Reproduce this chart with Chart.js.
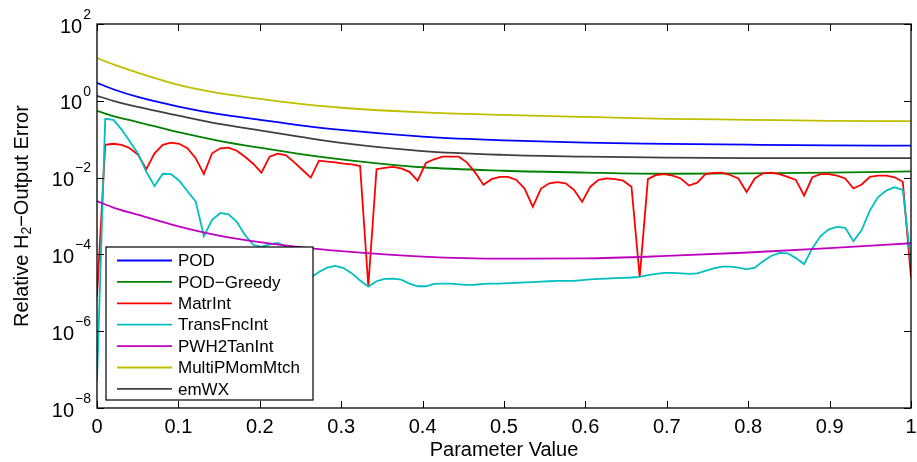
<!DOCTYPE html>
<html>
<head>
<meta charset="utf-8">
<script src="https://cdn.jsdelivr.net/npm/chart.js@4.4.0/dist/chart.umd.min.js"></script>
<style>
  html, body { margin: 0; padding: 0; background: #fff; }
</style>
</head>
<body>
<canvas id="mycanvas" width="917" height="462"></canvas>
<script>
// parameter samples (100 points on [0,1])
var paramGrid = [0, 0.0101, 0.0202, 0.0303, 0.0404, 0.0505, 0.0606, 0.0707, 0.0808, 0.0909,
  0.1010, 0.1111, 0.1212, 0.1313, 0.1414, 0.1515, 0.1616, 0.1717, 0.1818, 0.1919,
  0.2020, 0.2121, 0.2222, 0.2323, 0.2424, 0.2525, 0.2626, 0.2727, 0.2828, 0.2929,
  0.3030, 0.3131, 0.3232, 0.3333, 0.3434, 0.3535, 0.3636, 0.3737, 0.3838, 0.3939,
  0.4040, 0.4141, 0.4242, 0.4343, 0.4444, 0.4545, 0.4646, 0.4747, 0.4848, 0.4949,
  0.5051, 0.5152, 0.5253, 0.5354, 0.5455, 0.5556, 0.5657, 0.5758, 0.5859, 0.5960,
  0.6061, 0.6162, 0.6263, 0.6364, 0.6465, 0.6566, 0.6667, 0.6768, 0.6869, 0.6970,
  0.7071, 0.7172, 0.7273, 0.7374, 0.7475, 0.7576, 0.7677, 0.7778, 0.7879, 0.7980,
  0.8081, 0.8182, 0.8283, 0.8384, 0.8485, 0.8586, 0.8687, 0.8788, 0.8889, 0.8990,
  0.9091, 0.9192, 0.9293, 0.9394, 0.9495, 0.9596, 0.9697, 0.9798, 0.9899, 1];

var matrInt = [7.9e-6, 0.071, 0.076, 0.071, 0.058, 0.039, 0.0166, 0.043, 0.071, 0.081,
  0.076, 0.058, 0.032, 0.0123, 0.043, 0.058, 0.060, 0.050, 0.035, 0.023,
  0.0135, 0.035, 0.042, 0.038, 0.025, 0.0158, 0.0100, 0.0275, 0.026, 0.025,
  0.023, 0.022, 0.020, 1.5e-5, 0.0166, 0.018, 0.019, 0.0174, 0.0141, 0.0083,
  0.024, 0.030, 0.035, 0.035, 0.035, 0.025, 0.0135, 0.0065, 0.0091, 0.0105,
  0.0105, 0.0087, 0.0052, 0.00174, 0.0052, 0.0071, 0.0076, 0.0071, 0.0048, 0.00234,
  0.0058, 0.0087, 0.0095, 0.0091, 0.0083, 0.0058, 2.6e-5, 0.0091, 0.0117, 0.0123,
  0.0112, 0.0095, 0.0062, 0.0074, 0.0123, 0.0132, 0.0135, 0.0117, 0.0095, 0.0042,
  0.0095, 0.0129, 0.0135, 0.0123, 0.0105, 0.0087, 0.0034, 0.0102, 0.0123, 0.0123,
  0.0112, 0.0095, 0.0052, 0.0066, 0.0105, 0.0112, 0.0112, 0.0102, 0.0078, 2.5e-5];

var transFncInt = [5e-8, 0.34, 0.32, 0.178, 0.087, 0.042, 0.0141, 0.0060, 0.0126, 0.0123,
  0.0083, 0.0044, 0.0024, 3.0e-4, 7.9e-4, 1.2e-3, 1.1e-3, 7.1e-4, 3.2e-4, 1.78e-4,
  1.58e-4, 1.82e-4, 2.0e-4, 1.58e-4, 8.9e-5, 4.5e-5, 2.5e-5, 3.5e-5, 4.5e-5, 5.0e-5,
  4.4e-5, 3.2e-5, 2.1e-5, 1.45e-5, 2.0e-5, 2.3e-5, 2.35e-5, 2.2e-5, 1.74e-5, 1.48e-5,
  1.48e-5, 1.7e-5, 1.74e-5, 1.74e-5, 1.66e-5, 1.6e-5, 1.62e-5, 1.7e-5, 1.74e-5, 1.74e-5,
  1.78e-5, 1.82e-5, 1.86e-5, 1.9e-5, 1.95e-5, 2.0e-5, 2.04e-5, 2.04e-5, 2.04e-5, 2.14e-5,
  2.24e-5, 2.3e-5, 2.35e-5, 2.4e-5, 2.45e-5, 2.5e-5, 2.6e-5, 2.9e-5, 3.1e-5, 3.3e-5,
  3.3e-5, 3.2e-5, 3.1e-5, 3.2e-5, 3.7e-5, 4.3e-5, 4.8e-5, 4.8e-5, 4.5e-5, 4.1e-5,
  4.5e-5, 6.6e-5, 9.1e-5, 1.1e-4, 1.07e-4, 8.0e-5, 5.6e-5, 1.45e-4, 3.0e-4, 4.5e-4,
  5.2e-4, 4.9e-4, 2.2e-4, 4.3e-4, 1.4e-3, 3.1e-3, 4.6e-3, 5.6e-3, 4.8e-3, 6.3e-5];

// the smooth error curves, sampled more coarsely
var smoothGrid = [0, 0.02, 0.05, 0.1, 0.15, 0.2, 0.25, 0.3, 0.4, 0.5, 0.6, 0.7, 0.8, 0.9, 1];
var pod = [2.95, 2.0, 1.26, 0.71, 0.45, 0.32, 0.23, 0.174, 0.117, 0.093, 0.081, 0.076, 0.072, 0.069, 0.068];
var podGreedy = [0.55, 0.40, 0.28, 0.152, 0.091, 0.060, 0.041, 0.030, 0.0186, 0.0151, 0.0135, 0.0126, 0.0129, 0.0135, 0.0145];
var pwh2TanInt = [2.45e-3, 1.66e-3, 1.08e-3, 5.4e-4, 3.1e-4, 2.1e-4, 1.55e-4, 1.22e-4, 8.8e-5, 7.8e-5, 7.9e-5, 9.1e-5, 1.12e-4, 1.45e-4, 1.95e-4];
var multiPMomMtch = [12.9, 8.9, 5.4, 2.6, 1.58, 1.12, 0.83, 0.66, 0.50, 0.43, 0.38, 0.34, 0.32, 0.30, 0.295];
var emWX = [1.35, 1.0, 0.69, 0.41, 0.25, 0.17, 0.115, 0.080, 0.049, 0.039, 0.035, 0.033, 0.032, 0.032, 0.032];

var xTicks = [0, 0.1, 0.2, 0.3, 0.4, 0.5, 0.6, 0.7, 0.8, 0.9, 1];
var xTickLabels = ['0', '0.1', '0.2', '0.3', '0.4', '0.5', '0.6', '0.7', '0.8', '0.9', '1'];
var yTicks = [1e-8, 1e-6, 1e-4, 1e-2, 1, 1e2];
var yTickExponents = ['\u22128', '\u22126', '\u22124', '\u22122', '0', '2'];

var FONT = '"Liberation Sans", Arial, Helvetica, sans-serif';

function pts(xs, ys) {
  return xs.map(function(x, i) { return { x: x, y: ys[i] }; });
}

function series(label, color, xs, ys, order, smooth) {
  return {
    label: label,
    data: pts(xs, ys),
    borderColor: color,
    backgroundColor: color,
    borderWidth: 1.8,
    pointRadius: 0,
    fill: false,
    order: order,
    cubicInterpolationMode: smooth ? 'monotone' : 'default',
    tension: 0
  };
}

// box, inward ticks, exponent labels, y title and legend, matlab style
var matlabAxes = {
  id: 'matlabAxes',
  afterDatasetsDraw: function(chart) {
    var c = chart.ctx, a = chart.chartArea;
    var xs = chart.scales.x, ys = chart.scales.y;
    c.save();

    // legend
    var lx = a.left + 9, lw = 207, lh = 153, ly = a.bottom - 8 - lh;
    c.fillStyle = '#fff';
    c.fillRect(lx, ly, lw, lh);
    c.strokeStyle = '#000';
    c.lineWidth = 1.2;
    c.strokeRect(lx, ly, lw, lh);
    c.font = '17px ' + FONT;
    c.textBaseline = 'middle';
    c.textAlign = 'left';
    chart.data.datasets.forEach(function(ds, i) {
      var yy = ly + 13.5 + i * 21.4;
      c.strokeStyle = ds.borderColor;
      c.lineWidth = 1.8;
      c.beginPath();
      c.moveTo(lx + 11, yy);
      c.lineTo(lx + 66, yy);
      c.stroke();
      c.fillStyle = '#000';
      c.fillText(ds.label, lx + 72, yy + 1);
    });

    // frame
    c.strokeStyle = '#000';
    c.lineWidth = 1.3;
    c.strokeRect(a.left, a.top, a.right - a.left, a.bottom - a.top);

    c.lineWidth = 1;
    c.beginPath();
    xTicks.forEach(function(v) {
      var px = Math.round(xs.getPixelForValue(v)) + 0.5;
      c.moveTo(px, a.bottom); c.lineTo(px, a.bottom - 7);
      c.moveTo(px, a.top); c.lineTo(px, a.top + 7);
    });
    yTicks.forEach(function(v) {
      var py = Math.round(ys.getPixelForValue(v)) + 0.5;
      c.moveTo(a.left, py); c.lineTo(a.left + 7, py);
      c.moveTo(a.right, py); c.lineTo(a.right - 7, py);
    });
    c.stroke();

    // y tick labels: 10 with a raised exponent
    c.fillStyle = '#000';
    c.textBaseline = 'middle';
    yTicks.forEach(function(v, i) {
      var py = ys.getPixelForValue(v);
      var right = a.left - 6;
      c.font = '14px ' + FONT;
      c.textAlign = 'right';
      var ew = c.measureText(yTickExponents[i]).width;
      c.fillText(yTickExponents[i], right, py - 9);
      c.font = '20px ' + FONT;
      c.fillText('10', right - ew - 1, py + 3);
    });

    // y axis title with subscript
    var parts = [['Relative H', 20, 0], ['2', 14, 5], ['\u2212Output Error', 20, 0]];
    var total = 0;
    parts.forEach(function(p) { c.font = p[1] + 'px ' + FONT; p.push(c.measureText(p[0]).width); total += p[3]; });
    c.translate(22, (a.top + a.bottom) / 2);
    c.rotate(-Math.PI / 2);
    c.textAlign = 'left';
    var cx = -total / 2;
    parts.forEach(function(p) {
      c.font = p[1] + 'px ' + FONT;
      c.fillText(p[0], cx, p[2]);
      cx += p[3];
    });

    c.restore();
  }
};

var ctx = document.getElementById('mycanvas');

var chart = new Chart(ctx, {
  type: 'line',
  data: {
    datasets: [
      series('POD', '#0000ff', smoothGrid, pod, 7, true),
      series('POD\u2212Greedy', '#008000', smoothGrid, podGreedy, 6, true),
      series('MatrInt', '#ff0000', paramGrid, matrInt, 5, false),
      series('TransFncInt', '#00bfbf', paramGrid, transFncInt, 4, false),
      series('PWH2TanInt', '#bf00bf', smoothGrid, pwh2TanInt, 3, true),
      series('MultiPMomMtch', '#bfbf00', smoothGrid, multiPMomMtch, 2, true),
      series('emWX', '#404040', smoothGrid, emWX, 1, true)
    ]
  },
  options: {
    responsive: false,
    animation: false,
    layout: { padding: { top: 24, right: 6, left: 0, bottom: 0 } },
    plugins: { legend: { display: false }, tooltip: { enabled: false } },
    scales: {
      x: {
        type: 'linear', min: 0, max: 1,
        afterBuildTicks: function(s) { s.ticks = xTicks.map(function(v) { return { value: v }; }); },
        ticks: {
          callback: function(v, i) { return xTickLabels[i]; },
          font: { family: FONT, size: 20 }, color: '#000',
          padding: 7, maxRotation: 0, autoSkip: false
        },
        grid: { display: false, drawTicks: false },
        border: { display: false },
        title: {
          display: true, text: 'Parameter Value', color: '#000',
          font: { family: FONT, size: 20 }, padding: { top: 0, bottom: 0 }
        },
        afterFit: function(s) { s.height = 54; s.paddingLeft = 0; s.paddingRight = 0; }
      },
      y: {
        type: 'logarithmic', min: 1e-8, max: 1e2,
        afterBuildTicks: function(s) { s.ticks = yTicks.map(function(v) { return { value: v }; }); },
        ticks: { display: false },
        grid: { display: false },
        border: { display: false },
        afterFit: function(s) { s.width = 97; s.paddingTop = 0; s.paddingBottom = 0; }
      }
    }
  },
  plugins: [matlabAxes]
});
</script>
</body>
</html>
